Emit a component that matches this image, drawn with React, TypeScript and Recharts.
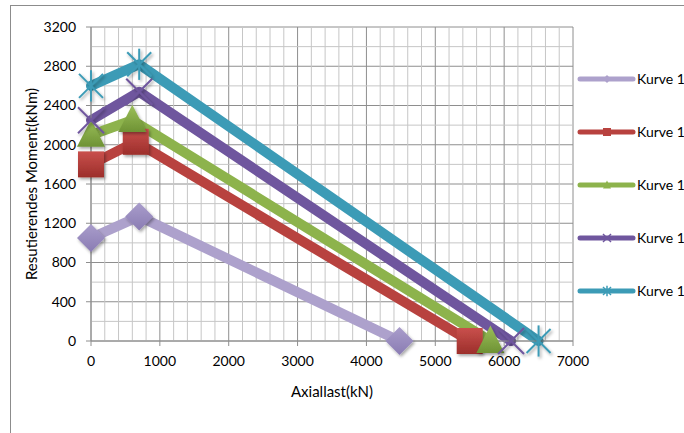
import { CartesianGrid, Line, LineChart, ReferenceLine, XAxis, YAxis } from "recharts";

// Kurve data
const kurve1X = [0, 700, 4480];
const kurve1Y = [1050, 1270, 0];
const kurve2X = [0, 650, 5500];
const kurve2Y = [1800, 2030, 0];
const kurve3X = [0, 600, 5800];
const kurve3Y = [2100, 2250, 0];
const kurve4X = [0, 700, 6100];
const kurve4Y = [2250, 2540, 0];
const kurve5X = [0, 700, 6500];
const kurve5Y = [2600, 2820, 0];

const xTicks = [0, 1000, 2000, 3000, 4000, 5000, 6000, 7000];
const yTicks = [0, 400, 800, 1200, 1600, 2000, 2400, 2800, 3200];
// minor gridlines between the major ones
const xMinorTicks = [
  200, 400, 600, 800, 1200, 1400, 1600, 1800, 2200, 2400, 2600, 2800, 3200, 3400, 3600, 3800,
  4200, 4400, 4600, 4800, 5200, 5400, 5600, 5800, 6200, 6400, 6600, 6800,
];
const yMinorTicks = [200, 600, 1000, 1400, 1800, 2200, 2600, 3000];

const seriesNames = ["Kurve 1", "Kurve 1", "Kurve 1", "Kurve 1", "Kurve 1"];

const toPoints = (xs: number[], ys: number[]) => xs.map((x, i) => ({ x, y: ys[i] }));

const font = "Lato, 'Liberation Sans', sans-serif";

type Shape = "diamond" | "square" | "triangle" | "x" | "star";

const series: { name: string; color: string; fill: string; shape: Shape; data: { x: number; y: number }[] }[] = [
  { name: seriesNames[0], color: "#ADA1CC", fill: "url(#gDiamond)", shape: "diamond", data: toPoints(kurve1X, kurve1Y) },
  { name: seriesNames[1], color: "#B8423F", fill: "url(#gSquare)", shape: "square", data: toPoints(kurve2X, kurve2Y) },
  { name: seriesNames[2], color: "#8DB34C", fill: "url(#gTriangle)", shape: "triangle", data: toPoints(kurve3X, kurve3Y) },
  { name: seriesNames[3], color: "#6F569E", fill: "#6F569E", shape: "x", data: toPoints(kurve4X, kurve4Y) },
  { name: seriesNames[4], color: "#3C9BB6", fill: "#3C9BB6", shape: "star", data: toPoints(kurve5X, kurve5Y) },
];

// draws a marker centred on cx, cy
const marker = (shape: Shape, cx: number, cy: number, s: number, color: string, fill: string, shadow: boolean) => {
  const f = shadow ? "url(#mShadow)" : undefined;
  if (shape === "diamond")
    return <polygon points={`${cx},${cy - s} ${cx + s},${cy} ${cx},${cy + s} ${cx - s},${cy}`} fill={fill} filter={f} />;
  if (shape === "square") return <rect x={cx - s} y={cy - s} width={s * 2} height={s * 2} fill={fill} filter={f} />;
  if (shape === "triangle")
    return <polygon points={`${cx},${cy - s * 1.1} ${cx + s},${cy + s * 0.85} ${cx - s},${cy + s * 0.85}`} fill={fill} filter={f} />;
  const w = shadow ? 2 : 1.5;
  return (
    <g stroke={color} strokeWidth={w} filter={f}>
      <line x1={cx - s} y1={cy - s} x2={cx + s} y2={cy + s} />
      <line x1={cx - s} y1={cy + s} x2={cx + s} y2={cy - s} />
      {shape === "star" && <line x1={cx} y1={cy - s * 1.3} x2={cx} y2={cy + s * 1.3} />}
    </g>
  );
};

const markerSize: Record<Shape, number> = { diamond: 14, square: 13, triangle: 14, x: 13, star: 12 };

const LegendBox = () => (
  <div style={{ position: "absolute", left: 577, top: 52, fontFamily: font, fontSize: 14, color: "#000" }}>
    {series.map((s) => (
      <div key={s.shape} style={{ height: 53, display: "flex", alignItems: "center" }}>
        <svg width={59} height={16} style={{ overflow: "visible" }}>
          <line x1={3} y1={8} x2={56} y2={8} stroke={s.color} strokeWidth={5} strokeLinecap="round" />
          {marker(s.shape, 30, 8, 4, s.color, s.color, false)}
        </svg>
        <span style={{ marginLeft: 1, whiteSpace: "nowrap" }}>{s.name}</span>
      </div>
    ))}
  </div>
);

export default function App() {
  return (
    <div style={{ position: "absolute", left: 0, top: 0, width: 684, height: 433, overflow: "hidden", background: "#fff" }}>
      <svg width={0} height={0} style={{ position: "absolute" }}>
        <defs>
          <filter id="mShadow" x="-50%" y="-50%" width="200%" height="200%">
            <feDropShadow dx="1.5" dy="2" stdDeviation="1.5" floodColor="#000" floodOpacity="0.35" />
          </filter>
          <linearGradient id="gDiamond" x1="0" y1="0" x2="0" y2="1">
            <stop offset="0" stopColor="#A99DCB" />
            <stop offset="1" stopColor="#8A7CB3" />
          </linearGradient>
          <linearGradient id="gSquare" x1="0" y1="0" x2="0" y2="1">
            <stop offset="0" stopColor="#C9504C" />
            <stop offset="1" stopColor="#9C2E2B" />
          </linearGradient>
          <linearGradient id="gTriangle" x1="0" y1="0" x2="0" y2="1">
            <stop offset="0" stopColor="#9CC05A" />
            <stop offset="1" stopColor="#6E9234" />
          </linearGradient>
        </defs>
      </svg>
      <div
        style={{ position: "absolute", left: 10, top: 5, width: 720, height: 460, border: "1px solid #8C8C8C" }}
      />
      <LineChart width={684} height={433} margin={{ top: 27, right: 111, bottom: 36, left: 31 }} style={{ fontFamily: font }}>
        {xMinorTicks.map((t) => (
          <ReferenceLine key={`vx${t}`} x={t} stroke="#C6C6C6" strokeWidth={1} {...({ zIndex: -90 } as any)} />
        ))}
        {yMinorTicks.map((t) => (
          <ReferenceLine key={`hy${t}`} y={t} stroke="#C6C6C6" strokeWidth={1} {...({ zIndex: -90 } as any)} />
        ))}
        <CartesianGrid stroke="#8E8E8E" strokeWidth={1} />
        <XAxis
          type="number"
          dataKey="x"
          domain={[0, 7000]}
          ticks={xTicks}
          allowDuplicatedCategory={false}
          height={56}
          tickSize={5}
          tickMargin={10}
          stroke="#8E8E8E"
          tick={{ fill: "#000", fontSize: 14 }}
          label={{ value: "Axiallast(kN)", position: "insideBottom", offset: 0, fill: "#000", fontSize: 15 }}
        />
        <YAxis
          type="number"
          dataKey="y"
          domain={[0, 3200]}
          ticks={yTicks}
          width={60}
          tickSize={5}
          tickMargin={10}
          stroke="#8E8E8E"
          tick={{ fill: "#000", fontSize: 14 }}
          label={{
            value: "Resutierendes Moment(kNm)",
            angle: -90,
            position: "insideLeft",
            offset: 1,
            fill: "#000",
            fontSize: 15,
            style: { textAnchor: "middle" },
          }}
        />
        {series.map((s) => (
          <Line
            key={s.shape}
            data={s.data}
            dataKey="y"
            name={s.name}
            type="linear"
            stroke={s.color}
            strokeWidth={10}
            strokeLinecap="round"
            strokeLinejoin="round"
            isAnimationActive={false}
            dot={(p: any) => (
              <g key={`${s.shape}-${p.index}`}>{marker(s.shape, p.cx, p.cy, markerSize[s.shape], s.color, s.fill, true)}</g>
            )}
            activeDot={false}
          />
        ))}
      </LineChart>
      <LegendBox />
    </div>
  );
}
